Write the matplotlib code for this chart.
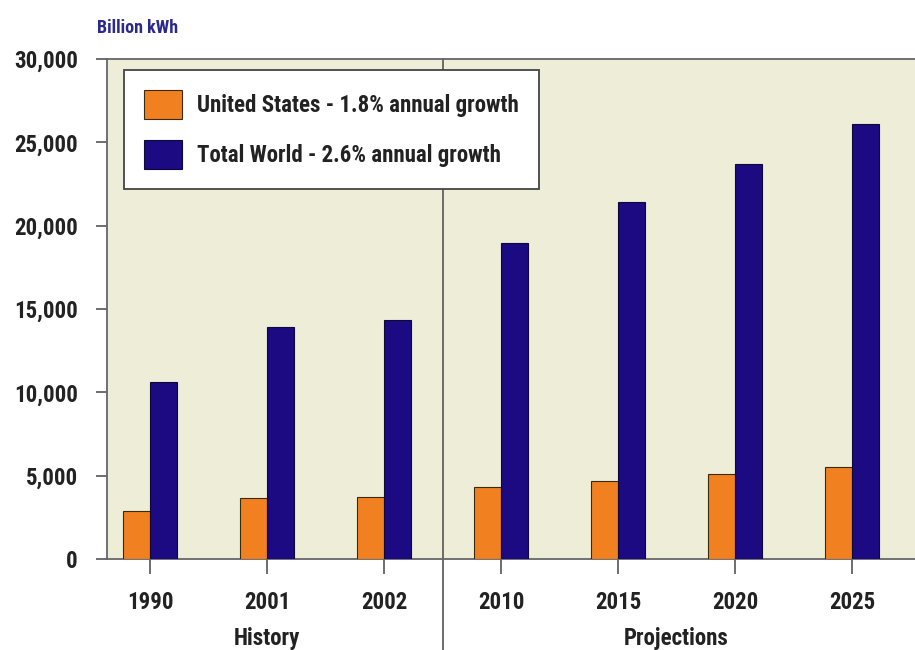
import numpy as np
import matplotlib
matplotlib.use("Agg")
from matplotlib import pyplot as plt

# data (billion kWh)
years = ["1990", "2001", "2002", "2010", "2015", "2020", "2025"]
us_values = [2900, 3650, 3720, 4340, 4690, 5100, 5540]
world_values = [10600, 13950, 14370, 18940, 21420, 23730, 26100]
series_labels = ["United States - 1.8% annual growth", "Total World - 2.6% annual growth"]
yticks = [0, 5000, 10000, 15000, 20000, 25000, 30000]

orange = "#F08020"
navy = "#1B0A82"
beige = "#EDEDD8"
text_col = "#222222"

plt.rcParams['font.family'] = ['Roboto Condensed', 'DejaVu Sans']
plt.rcParams['font.weight'] = 'bold'
plt.rcParams['font.stretch'] = 'condensed'

fig = plt.figure(figsize=(9.15, 6.5), dpi=100)
ax = fig.add_axes([0.117, 0.14, 0.883, 0.769])
ax.set_facecolor(beige)

x = np.arange(len(years))
w = 0.23
ax.bar(x - w/2, us_values, w, color=orange, edgecolor="#3a2a10", linewidth=0.8,
       label=series_labels[0], zorder=3)
ax.bar(x + w/2, world_values, w, color=navy, edgecolor="#10083a", linewidth=0.8,
       label=series_labels[1], zorder=3)

ax.set_xlim(-0.37, 6.54)
ax.set_ylim(0, 30000)
ax.set_yticks(yticks)
ax.set_yticklabels([f"{v:,}" for v in yticks])
ax.set_xticks(x)
ax.set_xticklabels(years)
ax.tick_params(axis='y', length=8, width=1.2, pad=13, colors="#555555",
               labelcolor=text_col, labelsize=16.5)
ax.tick_params(axis='x', length=11, width=1.2, pad=12, colors="#555555",
               labelcolor=text_col, labelsize=16.5)

for side in ["left", "bottom", "top"]:
    ax.spines[side].set_color("#666666")
    ax.spines[side].set_linewidth(1.3)
ax.spines["right"].set_visible(False)

# history / projections separator
ax.axvline(2.5, ymin=-0.182, ymax=1.0, color="#555555", linewidth=1.2,
           clip_on=False, zorder=2)

ax.text(1, -0.16, "History", transform=ax.get_xaxis_transform(),
        ha="center", va="center", fontsize=16.5, color=text_col)
ax.text(4.5, -0.16, "Projections", transform=ax.get_xaxis_transform(),
        ha="center", va="center", fontsize=16.5, color=text_col)

fig.text(0.106, 0.957, "Billion kWh", ha="left", va="center",
         fontsize=13, color="#2B2A8C")

leg = ax.legend(loc="upper left", bbox_to_anchor=(0.021, 0.978), fontsize=16.5,
                frameon=True, fancybox=False, framealpha=1, edgecolor="#444444",
                handlelength=1.7, handleheight=1.6, labelspacing=0.9,
                handletextpad=0.65, borderpad=0.85, borderaxespad=0)
leg.get_frame().set_linewidth(1.3)
for t in leg.get_texts():
    t.set_color(text_col)
leg.set_zorder(5)

fig.savefig("out.png", dpi=100, facecolor="white")
